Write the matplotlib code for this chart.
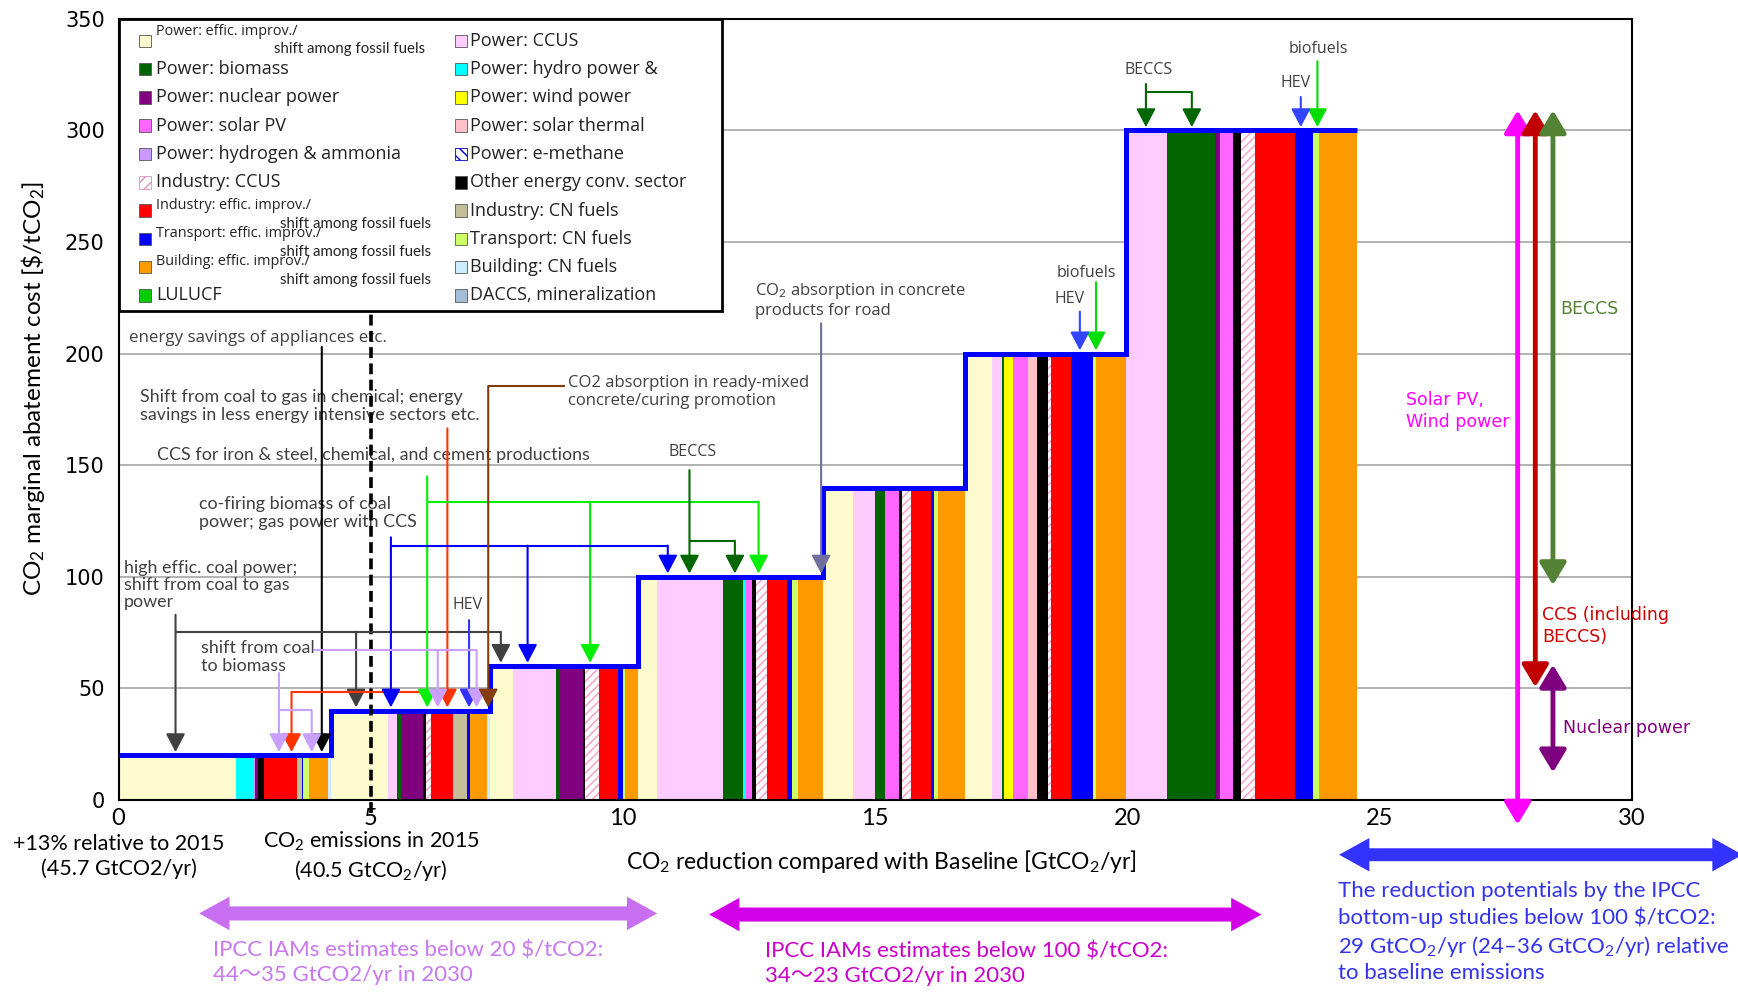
import numpy as np
import matplotlib.pyplot as plt
from matplotlib.patches import Rectangle, Polygon

plt.rcParams['font.family'] = ['Lato', 'DejaVu Sans']
plt.rcParams['mathtext.fontset'] = 'custom'
plt.rcParams['mathtext.rm'] = 'Lato'
plt.rcParams['mathtext.it'] = 'Lato:italic'
plt.rcParams['mathtext.bf'] = 'Lato:bold'
plt.rcParams['hatch.linewidth'] = 1.0

# ---------------- data ----------------
# abatement cost of each step [$/tCO2]
step_cost = [20, 40, 60, 100, 140, 200, 300]

# measures in each step (sector code) and their reduction [GtCO2/yr]
sectors_by_step = [
    ['PE', 'HY', 'H2', 'NU', 'OT', 'IE', 'ICN', 'TE', 'TCN', 'BE', 'BCN'],
    ['PE', 'PC', 'BM', 'NU', 'OT', 'IC', 'IE', 'ICN', 'TE', 'BE', 'BCN'],
    ['PE', 'PC', 'BM', 'NU', 'OT', 'IC', 'IE', 'TE', 'TCN', 'BE'],
    ['PE', 'PC', 'BM', 'HY', 'PV', 'OT', 'IC', 'IE', 'TE', 'TCN', 'BE'],
    ['PE', 'PC', 'BM', 'PV', 'OT', 'IC', 'IE', 'TE', 'TCN', 'BE'],
    ['PE', 'PC', 'BM', 'WI', 'PV', 'ST', 'OT', 'IC', 'IE', 'TE', 'TCN', 'BE'],
    ['PC', 'BM', 'NU', 'PV', 'OT', 'IC', 'IE', 'TE', 'TCN', 'BE'],
]
widths_by_step = [
    [2.33, 0.33, 0.04, 0.07, 0.12, 0.64, 0.10, 0.03, 0.12, 0.38, 0.06],
    [1.13, 0.18, 0.08, 0.42, 0.06, 0.10, 0.45, 0.27, 0.06, 0.33, 0.07],
    [0.46, 0.84, 0.08, 0.46, 0.04, 0.28, 0.38, 0.09, 0.05, 0.24],
    [0.38, 1.31, 0.41, 0.05, 0.11, 0.08, 0.23, 0.39, 0.10, 0.13, 0.49],
    [0.59, 0.44, 0.20, 0.28, 0.05, 0.18, 0.39, 0.07, 0.08, 0.53],
    [0.53, 0.20, 0.05, 0.17, 0.31, 0.17, 0.21, 0.07, 0.39, 0.45, 0.05, 0.60],
    [0.80, 0.96, 0.10, 0.25, 0.16, 0.28, 0.80, 0.36, 0.12, 0.75],
]

sector_color = {
    'PE': '#FDFACD', 'BM': '#006400', 'NU': '#800080', 'PV': '#FF66FF',
    'H2': '#CC99FF', 'IC': '#FFFFFF', 'IE': '#FF0000', 'TE': '#0000FF',
    'BE': '#FF9900', 'LU': '#00CC00', 'PC': '#FFCCFF', 'HY': '#00FFFF',
    'WI': '#FFFF00', 'ST': '#FFC0C8', 'EM': '#FFFFFF', 'OT': '#000000',
    'ICN': '#C4BD97', 'TCN': '#CCFF66', 'BCN': '#CCECFF', 'DA': '#A6BDD7',
}

# legend: left column / right column
legend_left = [
    ('PE', 'Power: effic. improv./', 'shift among fossil fuels'),
    ('BM', 'Power: biomass', None),
    ('NU', 'Power: nuclear power', None),
    ('PV', 'Power: solar PV', None),
    ('H2', 'Power: hydrogen & ammonia', None),
    ('IC', 'Industry: CCUS', None),
    ('IE', 'Industry: effic. improv./', 'shift among fossil fuels'),
    ('TE', 'Transport: effic. improv./', 'shift among fossil fuels'),
    ('BE', 'Building: effic. improv./', 'shift among fossil fuels'),
    ('LU', 'LULUCF', None),
]
legend_right = [
    ('PC', 'Power: CCUS'),
    ('HY', 'Power: hydro power &'),
    ('WI', 'Power: wind power'),
    ('ST', 'Power: solar thermal'),
    ('EM', 'Power: e-methane'),
    ('OT', 'Other energy conv. sector'),
    ('ICN', 'Industry: CN fuels'),
    ('TCN', 'Transport: CN fuels'),
    ('BCN', 'Building: CN fuels'),
    ('DA', 'DACCS, mineralization'),
]

# ---------------- figure ----------------
fig = plt.figure(figsize=(17.38, 9.92), dpi=100)
ax = fig.add_axes([0.0682, 0.1935, 0.8706, 0.7875])
ax.set_xlim(0, 30)
ax.set_ylim(0, 350)

lefts, widths, heights, colors, hatched = [], [], [], [], []
edges = [0.0]
x = 0.0
for k, (secs, ws) in enumerate(zip(sectors_by_step, widths_by_step)):
    for s, w in zip(secs, ws):
        lefts.append(x)
        widths.append(w)
        heights.append(step_cost[k])
        colors.append(sector_color[s])
        hatched.append(s == 'IC')
        x += w
    edges.append(x)

lefts = np.array(lefts); widths = np.array(widths); heights = np.array(heights)
hatched = np.array(hatched)
plain = ~hatched
ax.bar(lefts[plain], heights[plain], width=widths[plain], align='edge',
       color=[c for c, h in zip(colors, hatched) if not h], linewidth=0, zorder=2)
ax.bar(lefts[hatched], heights[hatched], width=widths[hatched], align='edge',
       facecolor='white', edgecolor='#FF99CC', hatch='////', linewidth=0, zorder=2)

ax.stairs(step_cost, edges, baseline=None, color='#0000FF', lw=3.6, zorder=4)


def cost_at(xv):
    for k in range(len(step_cost)):
        if edges[k] <= xv < edges[k + 1]:
            return step_cost[k]
    return step_cost[-1]


ax.yaxis.grid(True, color='#A6A6A6', lw=1.2)
ax.set_axisbelow(True)
for sp in ax.spines.values():
    sp.set_color('black')
    sp.set_linewidth(1.5)

ax.set_xticks(np.arange(0, 31, 5))
ax.set_yticks(np.arange(0, 351, 50))
ax.tick_params(length=0)
ax.tick_params(axis='x', labelsize=17, pad=6)
ax.tick_params(axis='y', pad=10)
for lab in ax.get_yticklabels():
    lab.set_fontfamily('DejaVu Sans')
    lab.set_fontsize(15)

ax.set_ylabel(r'CO$_2$ marginal abatement cost [\$/tCO$_2$]', fontsize=17.5)
ax.yaxis.set_label_coords(-0.047, 0.527)
ax.set_xlabel(r'CO$_2$ reduction compared with Baseline [GtCO$_2$/yr]', fontsize=16.5)
ax.xaxis.set_label_coords(0.504, -0.062)

# dashed line at 2015 emissions
ax.plot([5, 5], [-6, 218], color='black', lw=2.6, linestyle=(0, (3, 1.5)),
        clip_on=False, zorder=5)

# ---------------- pointers ----------------
pointers = [
    ('black', [[(4.03, 203), (4.03, None)]]),
    ('#404040', [[(1.13, 83), (1.13, None)],
                 [(1.13, 75.4), (7.58, 75.4), (7.58, None)],
                 [(4.71, 75.4), (4.71, None)]]),
    ('#FF3300', [[(6.52, 166.5), (6.52, None)],
                 [(6.52, 48.5), (3.43, 48.5), (3.43, None)]]),
    ('#00EE00', [[(6.12, 145), (6.12, None)],
                 [(6.12, 133.7), (12.69, 133.7), (12.69, None)],
                 [(9.35, 133.7), (9.35, None)]]),
    ('#0000FF', [[(5.40, 117.7), (5.40, None)],
                 [(5.40, 114), (10.89, 114), (10.89, None)],
                 [(8.11, 114), (8.11, None)]]),
    ('#3333FF', [[(6.95, 80.6), (6.95, None)]]),
    ('#C9A0FF', [[(3.88, 67.2), (7.10, 67.2), (7.10, None)],
                 [(6.33, 67.2), (6.33, None)],
                 [(3.18, 57), (3.18, None)],
                 [(3.18, 40.3), (3.83, 40.3), (3.83, None)]]),
    ('#843C0C', [[(8.85, 185.5), (7.33, 185.5), (7.33, None)]]),
    ('#7070A0', [[(13.93, 213.6), (13.93, None)]]),
    ('#006600', [[(11.32, 147.8), (11.32, None)],
                 [(11.32, 116.2), (12.22, 116.2), (12.22, None)],
                 [(20.37, 320.8), (20.37, None)],
                 [(20.37, 317.3), (21.28, 317.3), (21.28, None)]]),
    ('#00DD00', [[(19.38, 232), (19.38, None)],
                 [(23.77, 331), (23.77, None)]]),
    ('#3344FF', [[(19.06, 218.8), (19.06, None)],
                 [(23.44, 315), (23.44, None)]]),
]
for col, paths in pointers:
    for path in paths:
        pts = [(px, py if py is not None else cost_at(px) + 1.5) for px, py in path]
        if len(pts) > 2:
            ax.plot([p[0] for p in pts[:-1]], [p[1] for p in pts[:-1]],
                    color=col, lw=1.5, zorder=5, solid_capstyle='butt')
        ax.annotate('', xy=pts[-1], xytext=pts[-2],
                    arrowprops=dict(arrowstyle='-|>,head_length=0.8,head_width=0.42',
                                    color=col, lw=1.5, mutation_scale=14,
                                    shrinkA=0, shrinkB=0), zorder=5)

gray = '#404040'
small = dict(family='Open Sans', color=gray, ha='center', va='center', fontsize=11.5)
ax.text(0.20, 207, 'energy savings of appliances etc.', fontsize=12.2,
        family='Open Sans', color=gray, va='center')
ax.text(0.42, 176.5, 'Shift from coal to gas in chemical; energy\n'
        'savings in less energy intensive sectors etc.', fontsize=12.9,
        color=gray, va='center', linespacing=1.1)
ax.text(0.77, 154.4, 'CCS for iron & steel, chemical, and cement productions',
        fontsize=12.9, color=gray, va='center')
ax.text(1.60, 128.6, 'co-firing biomass of coal\npower; gas power with CCS',
        fontsize=12.9, color=gray, va='center', linespacing=1.1)
ax.text(0.11, 96.3, 'high effic. coal power;\nshift from coal to gas\npower',
        fontsize=12.9, color=gray, va='center', linespacing=1.1)
ax.text(1.63, 64.1, 'shift from coal\nto biomass', fontsize=12.9, color=gray,
        va='center', linespacing=1.1)
ax.text(6.92, 87.4, 'HEV', **small)
ax.text(8.92, 182.7, 'CO2 absorption in ready-mixed\nconcrete/curing promotion',
        fontsize=12, family='Open Sans', color=gray, va='center', linespacing=1.15)
ax.text(11.38, 155.9, 'BECCS', **small)
ax.text(12.62, 224.2, 'CO$_2$ absorption in concrete\nproducts for road',
        fontsize=12, family='Open Sans', color=gray, va='center', linespacing=1.15)
ax.text(19.19, 236.3, 'biofuels', **small)
ax.text(18.86, 224.4, 'HEV', **small)
ax.text(20.42, 327.2, 'BECCS', **small)
ax.text(23.78, 336.6, 'biofuels', **small)
ax.text(23.34, 321.3, 'HEV', **small)

# ---------------- right side ranges ----------------
def vspan(xv, y0, y1, col):
    ax.annotate('', xy=(xv, y1), xytext=(xv, y0), annotation_clip=False,
                arrowprops=dict(arrowstyle='<|-|>,head_length=0.75,head_width=0.45',
                                color=col, lw=3.5, mutation_scale=18,
                                shrinkA=0, shrinkB=0), zorder=5)

vspan(27.74, -11, 309, '#FF00FF')
vspan(28.09, 50.6, 309, '#C00000')
vspan(28.44, 96.3, 309, '#548235')
vspan(28.44, 12.4, 60.6, '#7F007F')
ax.text(25.52, 174.3, 'Solar PV,\nWind power', fontsize=12.5, family='DejaVu Sans',
        color='#FF00FF', va='center', linespacing=1.25, zorder=4)
ax.text(28.59, 220, 'BECCS', fontsize=12.5, family='DejaVu Sans', color='#548235',
        va='center')
ax.text(28.22, 78, 'CCS (including\nBECCS)', fontsize=12.5, family='DejaVu Sans',
        color='#CC0000', va='center', linespacing=1.25)
ax.text(28.64, 32.3, 'Nuclear power', fontsize=12.5, family='DejaVu Sans',
        color='#800080', va='center')

# ---------------- below the axis ----------------
ax.text(0, -25.2, '+13% relative to 2015\n(45.7 GtCO2/yr)', fontsize=15.5,
        ha='center', va='center', linespacing=1.3)
ax.text(5.01, -25.2, 'CO$_2$ emissions in 2015\n(40.5 GtCO$_2$/yr)', fontsize=15.5,
        ha='center', va='center', linespacing=1.3)


def hspan(x0, x1, yv, col, shaft, head_w, head_l):
    s, h = shaft / 2, head_w / 2
    verts = [(x0, yv), (x0 + head_l, yv + h), (x0 + head_l, yv + s),
             (x1 - head_l, yv + s), (x1 - head_l, yv + h), (x1, yv),
             (x1 - head_l, yv - h), (x1 - head_l, yv - s), (x0 + head_l, yv - s),
             (x0 + head_l, yv - h)]
    ax.add_patch(Polygon(verts, closed=True, facecolor=col, lw=0, clip_on=False))


hspan(1.60, 10.68, -50.8, '#C86EF0', 6.3, 15, 0.6)
hspan(11.71, 22.66, -51.3, '#D200E6', 6.3, 15, 0.6)
hspan(24.20, 32.2, -24.5, '#3333FF', 5.8, 15, 0.6)

ax.text(1.87, -72.9, 'IPCC IAMs estimates below 20 \\$/tCO2:\n44～35 GtCO2/yr in 2030',
        fontsize=16, color='#C878F0', va='center', linespacing=1.3,
        family=['Lato', 'Noto Sans CJK JP'])
ax.text(12.81, -73.4, 'IPCC IAMs estimates below 100 \\$/tCO2:\n34～23 GtCO2/yr in 2030',
        fontsize=16, color='#CC00CC', va='center', linespacing=1.3,
        family=['Lato', 'Noto Sans CJK JP'])
ax.text(24.18, -59.2, 'The reduction potentials by the IPCC\n'
        'bottom-up studies below 100 \\$/tCO2:\n'
        '29 GtCO$_2$/yr (24–36 GtCO$_2$/yr) relative\n'
        'to baseline emissions', fontsize=16, color='#3333EE', va='center',
        linespacing=1.3)

# ---------------- legend box ----------------
ax.add_patch(Rectangle((0, 0.6255), 0.3985, 0.3745, transform=ax.transAxes,
                       facecolor='white', edgecolor='black', lw=2, zorder=6,
                       clip_on=False))
row_y = [0.9718 - i * 0.0362 for i in range(10)]
mw, mh = 0.0082, 0.016


def marker(xc, yc, code):
    if code == 'IC':
        p = Rectangle((xc - mw / 2, yc - mh / 2), mw, mh, transform=ax.transAxes,
                      facecolor='white', edgecolor='#E08FC0', hatch='///', lw=0.6,
                      zorder=7)
    elif code == 'EM':
        p = Rectangle((xc - mw / 2, yc - mh / 2), mw, mh, transform=ax.transAxes,
                      facecolor='white', edgecolor='#0000CC', hatch='\\\\\\', lw=0.6,
                      zorder=7)
    else:
        p = Rectangle((xc - mw / 2, yc - mh / 2), mw, mh, transform=ax.transAxes,
                      facecolor=sector_color[code], edgecolor='#555555', lw=0.6,
                      zorder=7)
    ax.add_patch(p)


for i, (code, l1, l2) in enumerate(legend_left):
    yc = row_y[i]
    marker(0.0176, yc, code)
    if l2 is None:
        ax.text(0.0249, yc, l1, transform=ax.transAxes, fontsize=13,
                family='Open Sans', va='center', color='#222222', zorder=8)
    else:
        up = 0.012 if i == 0 else 0.007
        dn = 0.011 if i == 0 else 0.017
        ax.text(0.0249, yc + up, l1, transform=ax.transAxes, fontsize=10.4,
                family='Open Sans', va='center', color='#222222', zorder=8)
        ax.text(0.1026 if i == 0 else 0.107, yc - dn, l2, transform=ax.transAxes,
                fontsize=10.8, va='center', color='#222222', zorder=8)

for i, (code, lab) in enumerate(legend_right):
    yc = row_y[i]
    marker(0.2264, yc, code)
    ax.text(0.2322, yc, lab, transform=ax.transAxes, fontsize=13,
            family='Open Sans', va='center', color='#222222', zorder=8)

fig.savefig('out.png', dpi=100)
